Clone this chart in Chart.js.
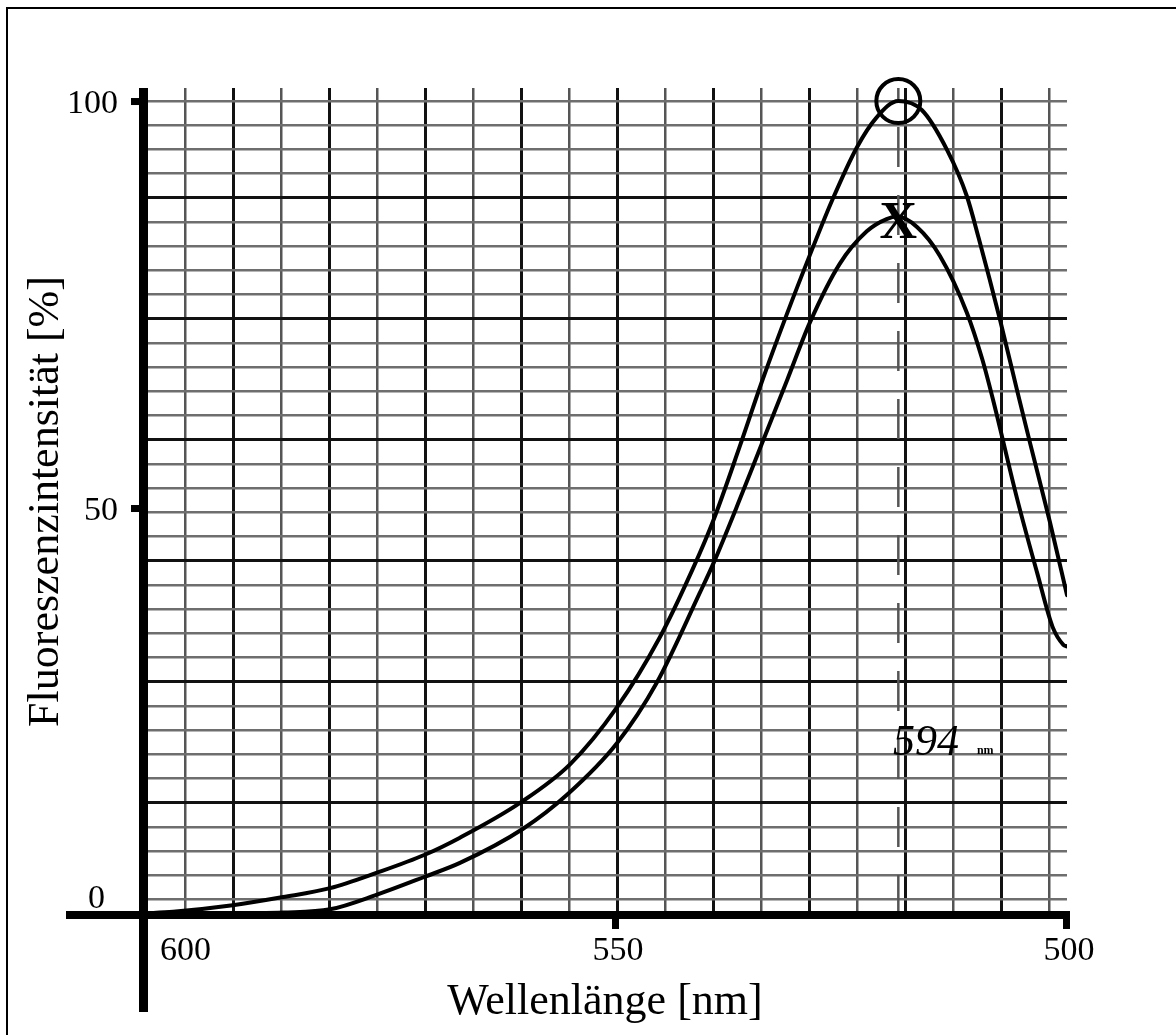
<!DOCTYPE html>
<html>
<head>
<meta charset="utf-8">
<script src="https://cdn.jsdelivr.net/npm/chart.js@4.4.0/dist/chart.umd.min.js"></script>
<style>
  html, body { margin: 0; padding: 0; background: #fff; }
  #wrap { position: relative; width: 1176px; height: 1035px; overflow: hidden; }
  #frame { position: absolute; left: 6px; top: 7px; width: 1300px; height: 1100px;
           border-left: 2px solid #000; border-top: 2px solid #000; pointer-events: none; }
  canvas { position: absolute; left: 0; top: 0; }
</style>
</head>
<body>
<div id="wrap">
  <canvas id="chart1" width="1176" height="1035"></canvas>
  <div id="frame"></div>
</div>
<script>
// values (x axis runs 600 -> 500 nm)
const upperNm = [602.4, 599.1, 592.5, 586.9, 581.7, 576.5, 571.2, 567.3, 560.6, 555.1,
  549.9, 545.2, 541.5, 539.2, 536.3, 533.8, 531.1, 528.5, 526.0, 523.3,
  521.1, 518.7, 516.1, 513.3, 511.1, 509.8, 507.4, 505.5, 504.1, 501.9, 500.0];
const upperPct = [0.2, 0.4, 1.2, 2.2, 3.3, 5.2, 7.4, 9.5, 13.8, 18.5,
  25.5, 34.0, 42.5, 48.5, 57.5, 65.6, 73.7, 81.1, 87.9, 94.3,
  98.0, 100.0, 98.9, 94.0, 88.3, 83.2, 73.0, 64.3, 58.0, 48.3, 39.3];

const lowerNm = [602.4, 596.0, 592.0, 586.9, 581.7, 576.5, 571.2, 567.3, 560.3, 555.4,
  549.9, 545.5, 540.7, 539.2, 536.3, 533.8, 531.0, 528.5, 525.2, 522.2,
  520.0, 518.8, 516.6, 514.1, 511.1, 509.4, 508.2, 505.5, 503.3, 501.6,
  500.4, 500.0];
const lowerPct = [0, 0, 0.2, 0.3, 0.7, 2.5, 4.7, 6.4, 10.6, 14.8,
  21.1, 28.5, 39.6, 43.2, 51.0, 58.0, 65.8, 72.8, 80.0, 84.0,
  85.5, 85.8, 84.5, 81.0, 74.0, 68.3, 63.3, 51.0, 42.0, 35.4,
  33.2, 33.0];

const xTicks = [600, 550, 500];
const yTicks = [0, 50, 100];

const peakNm = 518.7;
const peakUpper = 100;
const peakLower = 85.1;
const noteNm = 519.3;
const notePct = 19.6;
const noteText = '594';

const serif = '"Liberation Serif", "Times New Roman", serif';

function toPoints(xs, ys) {
  return xs.map((x, i) => ({ x, y: ys[i] }));
}

function range(from, to) {
  const out = [];
  for (let v = from; v <= to; v += 1) out.push({ value: v });
  return out;
}

// thick axes, tick stubs, labels and the pen marks on the paper
const paperAxes = {
  id: 'paperAxes',
  afterDatasetsDraw(chart) {
    const { ctx, chartArea } = chart;
    const x = chart.scales.x;
    const y = chart.scales.y;
    const x0 = chartArea.left;
    const y0 = y.getPixelForValue(0);
    ctx.save();
    ctx.fillStyle = '#000';
    ctx.fillRect(x0 - 4, chartArea.top, 9, y0 + 97 - chartArea.top);
    ctx.fillRect(x0 - 77, y0 - 4, chartArea.right - x0 + 80, 8);

    ctx.font = `34px ${serif}`;
    ctx.textBaseline = 'middle';
    yTicks.forEach((v) => {
      const py = y.getPixelForValue(v);
      ctx.textAlign = 'right';
      if (v === 0) {
        ctx.fillText(String(v), x0 - 38, py - 16);
        return;
      }
      ctx.fillRect(x0 - 12, py - 3, 12, 7);
      ctx.fillText(String(v), x0 - 25, py + 3);
    });
    xTicks.forEach((v) => {
      const px = x.getPixelForValue(v);
      const w = ctx.measureText(String(v)).width;
      if (px - w / 2 < x0 + 17) {
        ctx.textAlign = 'left';
        ctx.fillText(String(v), x0 + 17, y0 + 36);
        return;
      }
      ctx.fillRect(px - 4, y0, 7, 14);
      ctx.textAlign = 'center';
      ctx.fillText(String(v), px + 2, y0 + 36);
    });

    // "X" at the lower peak
    ctx.font = `bold 52px ${serif}`;
    ctx.textAlign = 'center';
    ctx.fillText('X', x.getPixelForValue(peakNm), y.getPixelForValue(peakLower) + 2);

    // handwritten note
    ctx.font = `italic 44px ${serif}`;
    ctx.textAlign = 'left';
    ctx.textBaseline = 'alphabetic';
    const nx = x.getPixelForValue(noteNm);
    const ny = y.getPixelForValue(notePct);
    ctx.fillText(noteText, nx, ny);
    ctx.font = `bold 12px ${serif}`;
    ctx.fillText('nm', nx + 84, ny - 1);
    ctx.restore();
  },
};

const ctx = document.getElementById('chart1').getContext('2d');
const chart1 = new Chart(ctx, {
  type: 'line',
  data: {
    datasets: [
      {
        label: 'peak marker',
        data: [{ x: peakNm, y: peakUpper }],
        showLine: false,
        pointRadius: 22,
        pointHoverRadius: 22,
        pointBorderWidth: 4,
        pointBorderColor: '#000',
        pointBackgroundColor: 'rgba(0,0,0,0)',
        clip: false,
        order: 0,
      },
      {
        label: 'upper',
        data: toPoints(upperNm, upperPct),
        borderColor: '#000',
        borderWidth: 4,
        pointRadius: 0,
        cubicInterpolationMode: 'monotone',
        borderCapStyle: 'round',
        borderJoinStyle: 'round',
        order: 1,
      },
      {
        label: 'lower',
        data: toPoints(lowerNm, lowerPct),
        borderColor: '#000',
        borderWidth: 4,
        pointRadius: 0,
        cubicInterpolationMode: 'monotone',
        borderCapStyle: 'round',
        borderJoinStyle: 'round',
        order: 2,
      },
      {
        label: 'peak line',
        data: [{ x: peakNm, y: 0 }, { x: peakNm, y: 101.6 }],
        borderColor: '#555',
        borderWidth: 2.5,
        borderDash: [40, 28],
        pointRadius: 0,
        order: 3,
      },
    ],
  },
  options: {
    responsive: false,
    devicePixelRatio: 1,
    animation: false,
    layout: { padding: { top: 88, right: 109, left: 0, bottom: 0 } },
    plugins: { legend: { display: false }, tooltip: { enabled: false } },
    scales: {
      x: {
        type: 'linear',
        reverse: true,
        min: 500,
        max: 602.44,
        afterFit(scale) { scale.height = 120; },
        ticks: { display: false },
        grid: { display: false },
        border: { display: false },
        title: {
          display: true,
          text: 'Wellenlänge [nm]',
          color: '#000',
          font: { family: serif, size: 44 },
          padding: { top: 0, bottom: 6 },
        },
      },
      y: {
        type: 'linear',
        min: 0,
        max: 101.6,
        afterFit(scale) { scale.width = 143; },
        ticks: { display: false },
        grid: { display: false },
        border: { display: false },
        title: {
          display: true,
          text: 'Fluoreszenzintensität [%]',
          color: '#000',
          font: { family: serif, size: 44 },
          padding: { top: 20, bottom: 0 },
        },
      },
      // graph paper lines, offset from the data axes as on the scan
      gx: {
        type: 'linear',
        position: 'bottom',
        min: 0.125,
        max: 19.375,
        afterFit(scale) { scale.height = 0; },
        afterBuildTicks(scale) { scale.ticks = range(1, 19); },
        ticks: { display: false },
        border: { display: false },
        grid: {
          drawTicks: false,
          color: (c) => (c.tick && c.tick.value % 2 === 0 ? '#111' : '#555'),
          lineWidth: (c) => (c.tick && c.tick.value % 2 === 0 ? 3 : 2.5),
        },
      },
      gy: {
        type: 'linear',
        position: 'left',
        min: 0.364,
        max: 34.54,
        afterFit(scale) { scale.width = 0; },
        afterBuildTicks(scale) { scale.ticks = range(1, 34); },
        ticks: { display: false },
        border: { display: false },
        grid: {
          drawTicks: false,
          color: (c) => (c.tick && c.tick.value % 5 === 0 ? '#111' : '#6e6e6e'),
          lineWidth: (c) => (c.tick && c.tick.value % 5 === 0 ? 3 : 2.5),
        },
      },
    },
  },
  plugins: [paperAxes],
});
</script>
</body>
</html>
